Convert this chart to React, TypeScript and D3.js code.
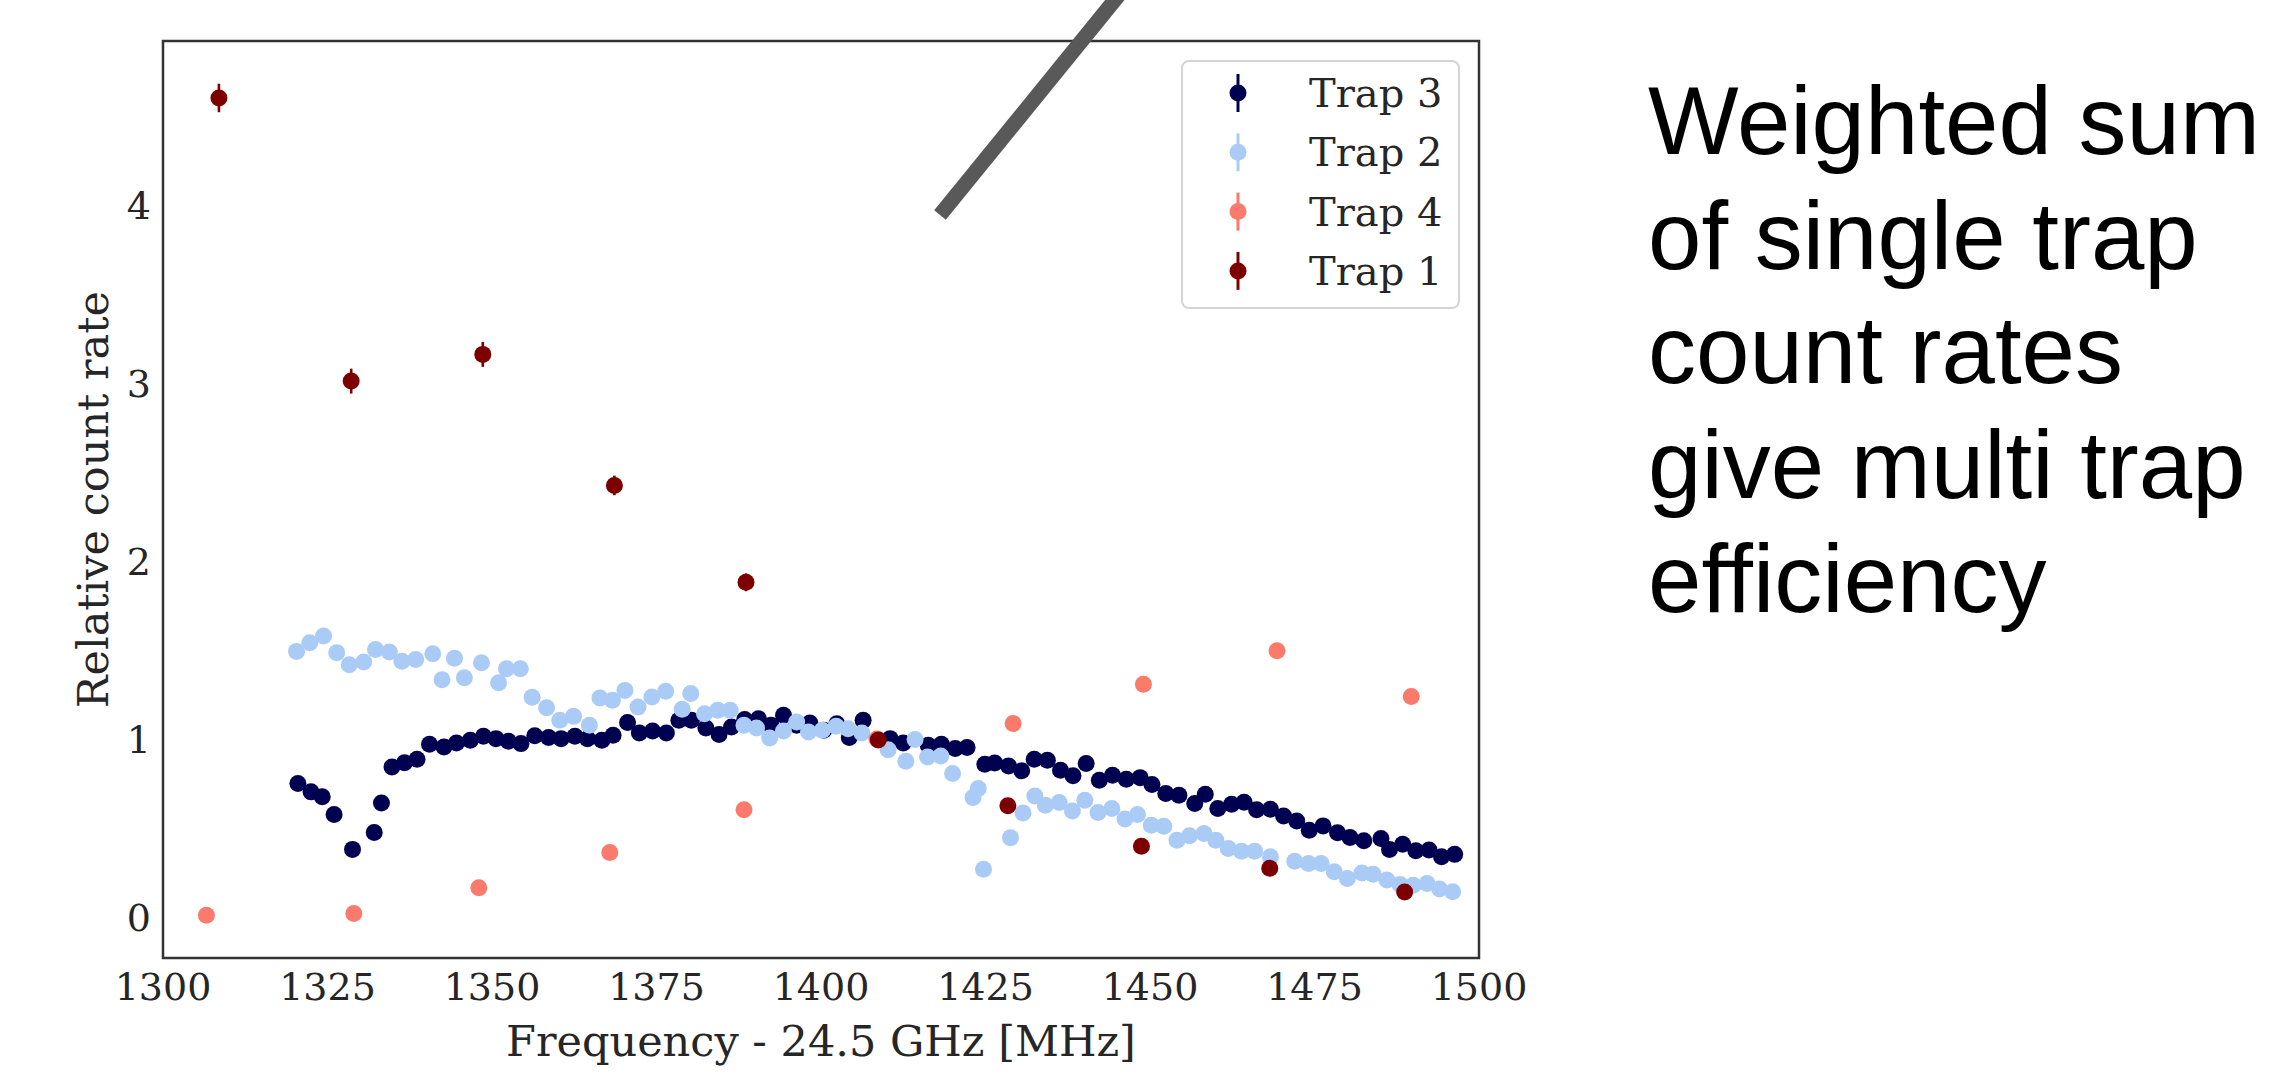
import React, { useEffect, useRef } from 'react';
import * as d3 from 'd3';

// Trap 3 (navy)
const trap3Freq = [1320.5, 1322.5, 1324.2, 1326.0, 1328.8, 1332.1, 1333.2, 1334.8, 1336.7, 1338.6, 1340.5, 1342.7, 1344.6, 1346.7, 1348.7, 1350.6, 1352.5, 1354.4, 1356.5, 1358.6, 1360.5, 1362.6, 1364.5, 1366.7, 1368.4, 1370.6, 1372.4, 1374.4, 1376.5, 1378.4, 1380.3, 1382.5, 1384.5, 1386.4, 1388.4, 1390.5, 1392.4, 1394.3, 1396.3, 1398.3, 1400.4, 1402.4, 1404.3, 1406.4, 1410.5, 1412.5, 1416.3, 1418.3, 1420.4, 1422.2, 1424.9, 1426.4, 1428.5, 1430.5, 1432.4, 1434.4, 1436.4, 1438.3, 1440.3, 1442.3, 1444.3, 1446.4, 1448.5, 1450.3, 1452.4, 1454.4, 1456.8, 1458.4, 1460.3, 1462.4, 1464.3, 1466.2, 1468.3, 1470.3, 1472.3, 1474.2, 1476.3, 1478.5, 1480.4, 1482.5, 1485.1, 1486.4, 1488.4, 1490.4, 1492.4, 1494.3, 1496.3];
const trap3Val = [0.750, 0.703, 0.675, 0.576, 0.380, 0.475, 0.641, 0.843, 0.867, 0.886, 0.970, 0.955, 0.978, 0.993, 1.015, 1.002, 0.987, 0.974, 1.018, 1.008, 1.002, 1.015, 1.002, 0.993, 1.021, 1.092, 1.034, 1.045, 1.034, 1.105, 1.105, 1.062, 1.025, 1.067, 1.109, 1.114, 1.077, 1.133, 1.077, 1.090, 1.049, 1.086, 1.008, 1.105, 1.002, 0.978, 0.965, 0.970, 0.946, 0.952, 0.858, 0.865, 0.848, 0.821, 0.886, 0.881, 0.824, 0.793, 0.862, 0.768, 0.796, 0.774, 0.783, 0.744, 0.694, 0.684, 0.638, 0.690, 0.610, 0.634, 0.645, 0.603, 0.606, 0.568, 0.540, 0.488, 0.512, 0.473, 0.447, 0.428, 0.441, 0.380, 0.409, 0.372, 0.376, 0.338, 0.352];

// Trap 2 (light blue)
const trap2Freq = [1320.3, 1322.3, 1324.4, 1326.4, 1328.3, 1330.5, 1332.3, 1334.4, 1336.3, 1338.4, 1341.0, 1342.4, 1344.3, 1345.8, 1348.4, 1351.0, 1352.2, 1354.3, 1356.1, 1358.3, 1360.3, 1362.4, 1364.8, 1366.4, 1368.3, 1370.2, 1372.2, 1374.3, 1376.4, 1378.9, 1380.2, 1382.3, 1384.3, 1386.2, 1388.3, 1390.2, 1392.2, 1394.3, 1396.3, 1398.1, 1400.2, 1402.3, 1404.1, 1406.2, 1410.2, 1412.9, 1414.3, 1416.2, 1418.2, 1420.0, 1423.1, 1423.9, 1424.7, 1428.8, 1430.7, 1432.5, 1434.1, 1436.2, 1438.2, 1440.1, 1442.1, 1444.2, 1446.2, 1448.1, 1450.2, 1452.1, 1454.1, 1456.0, 1458.2, 1460.0, 1461.9, 1463.9, 1465.9, 1468.3, 1472.0, 1474.1, 1476.0, 1478.0, 1480.0, 1482.2, 1483.9, 1486.0, 1488.0, 1490.0, 1492.1, 1494.0, 1496.0];
const trap2Val = [1.492, 1.541, 1.578, 1.485, 1.417, 1.432, 1.503, 1.488, 1.436, 1.447, 1.479, 1.333, 1.454, 1.344, 1.428, 1.316, 1.395, 1.395, 1.234, 1.176, 1.105, 1.127, 1.077, 1.230, 1.217, 1.273, 1.180, 1.236, 1.268, 1.167, 1.255, 1.142, 1.161, 1.161, 1.077, 1.062, 1.005, 1.045, 1.095, 1.039, 1.049, 1.071, 1.058, 1.034, 0.940, 0.875, 0.997, 0.899, 0.905, 0.806, 0.671, 0.722, 0.268, 0.446, 0.585, 0.680, 0.628, 0.643, 0.596, 0.656, 0.587, 0.610, 0.550, 0.576, 0.516, 0.510, 0.432, 0.456, 0.469, 0.432, 0.385, 0.370, 0.369, 0.338, 0.314, 0.301, 0.301, 0.254, 0.217, 0.248, 0.241, 0.208, 0.183, 0.179, 0.189, 0.157, 0.142];

// Trap 4 (salmon)
const trap4Freq = [1306.6, 1329.0, 1348.0, 1367.9, 1388.3, 1408.5, 1429.2, 1449.0, 1469.3, 1489.7];
const trap4Val = [0.01, 0.02, 0.164, 0.363, 0.603, 1.0, 1.087, 1.307, 1.495, 1.239];

// Trap 1 (dark red), with error bars
const trap1Freq = [1308.5, 1328.6, 1348.6, 1368.6, 1388.6, 1408.7, 1428.4, 1448.7, 1468.2, 1488.7];
const trap1Val = [4.60, 3.01, 3.16, 2.424, 1.88, 0.994, 0.625, 0.397, 0.274, 0.141];
const trap1Err = [0.08, 0.07, 0.07, 0.055, 0.05, 0.03, 0.025, 0.02, 0.02, 0.015];

const xTicks = [1300, 1325, 1350, 1375, 1400, 1425, 1450, 1475, 1500];
const yTicks = [0, 1, 2, 3, 4];

const noteLines = ['Weighted sum', 'of single trap', 'count rates', 'give multi trap', 'efficiency'];

type Series = { name: string; color: string; freq: number[]; val: number[]; err?: number[] };

const series: Series[] = [
  { name: 'Trap 3', color: '#000050', freq: trap3Freq, val: trap3Val },
  { name: 'Trap 2', color: '#abcbf7', freq: trap2Freq, val: trap2Val },
  { name: 'Trap 4', color: '#fa7a6c', freq: trap4Freq, val: trap4Val },
  { name: 'Trap 1', color: '#7d0000', freq: trap1Freq, val: trap1Val, err: trap1Err },
];

export default function App() {
  const ref = useRef<SVGSVGElement>(null);

  useEffect(() => {
    const svg = d3.select(ref.current);
    svg.selectAll('*').remove();

    const left = 163, right = 1479, top = 41, bottom = 958;
    const x = d3.scaleLinear().domain([1300, 1500]).range([left, right]);
    const y = d3.scaleLinear().domain([-0.23, 4.92]).range([bottom, top]);
    const serif = '"DejaVu Serif", serif';
    const ink = '#262626';

    // points
    series.forEach((s) => {
      const g = svg.append('g');
      const pts = s.freq.map((f, i) => ({ f, v: s.val[i], e: s.err ? s.err[i] : 0 }));
      if (s.err) {
        g.selectAll('line')
          .data(pts)
          .enter()
          .append('line')
          .attr('x1', (d) => x(d.f))
          .attr('x2', (d) => x(d.f))
          .attr('y1', (d) => y(d.v - d.e))
          .attr('y2', (d) => y(d.v + d.e))
          .attr('stroke', s.color)
          .attr('stroke-width', 2.6);
      }
      g.selectAll('circle')
        .data(pts)
        .enter()
        .append('circle')
        .attr('cx', (d) => x(d.f))
        .attr('cy', (d) => y(d.v))
        .attr('r', 8.5)
        .attr('fill', s.color);
    });

    // frame
    svg.append('rect')
      .attr('x', left).attr('y', top)
      .attr('width', right - left).attr('height', bottom - top)
      .attr('fill', 'none').attr('stroke', '#333').attr('stroke-width', 2.5);

    // tick labels
    svg.append('g').selectAll('text')
      .data(xTicks).enter().append('text')
      .attr('x', (d) => x(d)).attr('y', 1000)
      .attr('text-anchor', 'middle')
      .style('font-family', serif).style('font-size', '38px').attr('fill', ink)
      .text((d) => d);
    svg.append('g').selectAll('text')
      .data(yTicks).enter().append('text')
      .attr('x', 151).attr('y', (d) => y(d) + 14)
      .attr('text-anchor', 'end')
      .style('font-family', serif).style('font-size', '38px').attr('fill', ink)
      .text((d) => d);

    // axis labels
    svg.append('text')
      .attr('x', (left + right) / 2).attr('y', 1056)
      .attr('text-anchor', 'middle')
      .style('font-family', serif).style('font-size', '43px').attr('fill', ink)
      .text('Frequency - 24.5 GHz [MHz]');
    svg.append('text')
      .attr('transform', `translate(108,${(top + bottom) / 2}) rotate(-90)`)
      .attr('text-anchor', 'middle')
      .style('font-family', serif).style('font-size', '43px').attr('fill', ink)
      .text('Relative count rate');

    // legend
    const lg = svg.append('g');
    lg.append('rect')
      .attr('x', 1182).attr('y', 61).attr('width', 277).attr('height', 247)
      .attr('rx', 7).attr('fill', '#fff').attr('fill-opacity', 0.8)
      .attr('stroke', '#d4d4d4').attr('stroke-width', 2);
    series.forEach((s, i) => {
      const cy = 93 + i * 59.3;
      lg.append('line')
        .attr('x1', 1238).attr('x2', 1238).attr('y1', cy - 19).attr('y2', cy + 19)
        .attr('stroke', s.color).attr('stroke-width', 3);
      lg.append('circle').attr('cx', 1238).attr('cy', cy).attr('r', 8.5).attr('fill', s.color);
      lg.append('text')
        .attr('x', 1309).attr('y', cy + 14)
        .style('font-family', serif).style('font-size', '40px').attr('fill', ink)
        .text(s.name);
    });

    // grey pointer line
    svg.append('line')
      .attr('x1', 940).attr('y1', 215).attr('x2', 1127).attr('y2', -15)
      .attr('stroke', '#595959').attr('stroke-width', 15);

    // side note
    svg.append('g').selectAll('text')
      .data(noteLines).enter().append('text')
      .attr('x', 1648).attr('y', (d, i) => 154 + i * 114.5)
      .style('font-family', '"Liberation Sans", Arial, sans-serif').style('font-size', '96px')
      .attr('fill', '#000')
      .text((d) => d);
  }, []);

  return (
    <svg
      ref={ref}
      width={2293}
      height={1081}
      style={{ position: 'absolute', left: 0, top: 0, background: '#fff' }}
    />
  );
}
